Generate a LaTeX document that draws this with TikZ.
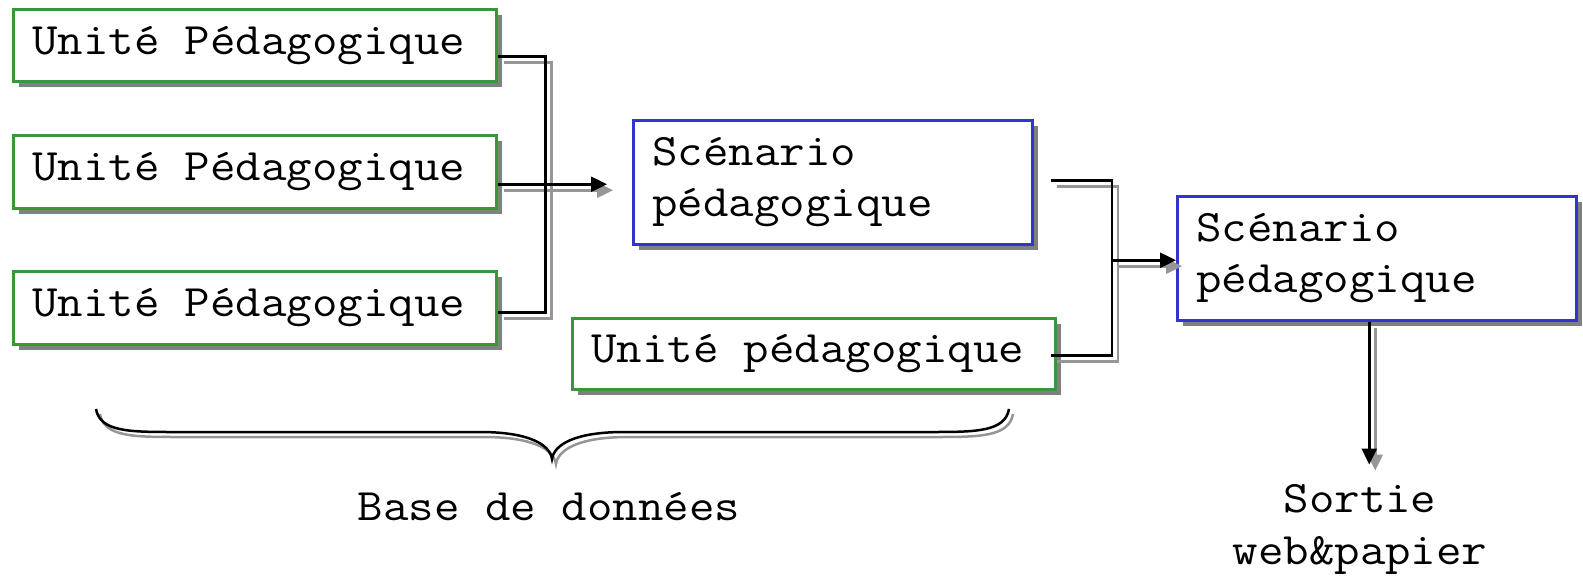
\documentclass[tikz,border=0pt]{standalone}
\usepackage{fontspec}
\newfontfamily\courfont{Latin Modern Mono}[FakeStretch=1.10]
\usetikzlibrary{shadows,arrows.meta}
\definecolor{ugreen}{RGB}{58,150,58}
\definecolor{sblue}{RGB}{52,52,204}
\definecolor{shgray}{RGB}{128,128,128}
\definecolor{lngray}{RGB}{150,150,150}
\newcommand\wsp{ \hspace{10pt}}
\tikzset{
  basebox/.style={line width=2.5pt, fill=white, inner xsep=19pt, inner ysep=0pt,
    align=left, anchor=north west, font=\courfont\fontsize{45}{51}\selectfont,
    drop shadow={shadow xshift=6pt, shadow yshift=-6pt, fill=shgray, opacity=1}},
  ubox/.style={basebox, draw=ugreen},
  sbox/.style={basebox, draw=sblue},
  conn/.style={line width=2.5pt},
  arr/.style={conn, -{Triangle[length=16pt,width=15pt]}},
  lbl/.style={font=\courfont\fontsize{45}{52}\selectfont, align=center, inner sep=0pt},
}
\newcommand\myconns{%
  \draw[conn] (u1o) -- ++(48,0) |- (u3o);
  \draw[arr] (u2o) -- (u2o -| t1);
  \draw[conn] (s1o) -| (j2) |- (ulo);
  \draw[arr] (s2in -| j2) -- (s2in);
  \draw[arr] (s2o) -- ++(0,143);
}
\newcommand\mybrace{%
  (96,409) .. controls (100,432) and (130,432) .. (175,432) -- (480,432)
  .. controls (530,432) and (550,445) .. (552,459)
  .. controls (554,445) and (574,432) .. (624,432) -- (930,432)
  .. controls (975,432) and (1005,432) .. (1009,409)%
}
\begin{document}
\begin{tikzpicture}[x=1pt,y=-1pt]
\useasboundingbox (0,0) rectangle (1583,576);
% boxes
\node[ubox, minimum width=483pt, minimum height=72pt, text width=445pt] (up1) at (12,8) {\mbox{Unité\wsp Pédagogique}};
\node[ubox, minimum width=483pt, minimum height=73pt, text width=445pt] (up2) at (12,134) {\mbox{Unité\wsp Pédagogique}};
\node[ubox, minimum width=483pt, minimum height=73pt, text width=445pt] (up3) at (12,270) {\mbox{Unité\wsp Pédagogique}};
\node[sbox, minimum width=399pt, minimum height=124pt, text width=361pt] (sc1) at (632,119) {Scénario\\pédagogique};
\node[ubox, minimum width=483pt, minimum height=71pt, text width=445pt] (upl) at (571,317) {\mbox{Unité\wsp pédagogique}};
\node[sbox, minimum width=399pt, minimum height=124pt, text width=361pt] (sc2) at (1176,195) {Scénario\\pédagogique};
\node[lbl] (out) at (1360,529) {Sortie\\web\&papier};
\node[lbl] (db) at (549,507) {Base de données};
% ports
\coordinate (u1o) at ([yshift=-11pt]up1.east);
\coordinate (u2o) at ([yshift=-12.5pt]up2.east);
\coordinate (u3o) at ([yshift=-4.5pt]up3.east);
\coordinate (t1) at ([xshift=-25pt]sc1.west);
\coordinate (s1o) at ([xshift=17pt,yshift=2pt]sc1.east);
\coordinate (ulo) at ([xshift=-6pt,yshift=-1.5pt]upl.east);
\coordinate (j2) at (1112,259);
\coordinate (s2in) at ([yshift=-2pt]sc2.west);
\coordinate (s2o) at ([xshift=-7.5pt]sc2.south);
% shadow lines
\begin{scope}[transform canvas={shift={(6pt,-6pt)}}, draw=lngray, fill=lngray]
  \myconns
\end{scope}
\begin{scope}[transform canvas={shift={(4pt,-5pt)}}]
  \draw[conn, draw=lngray] \mybrace;
\end{scope}
% main lines
\myconns
\draw[conn] \mybrace;
\end{tikzpicture}
\end{document}
